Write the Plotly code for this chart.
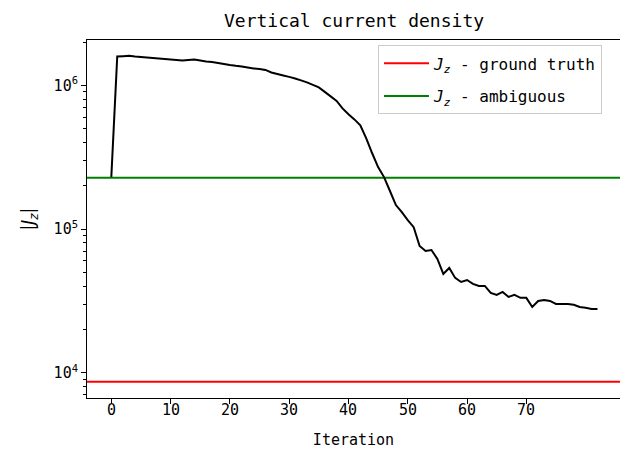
import plotly.graph_objects as go

# ---------------- data ----------------
iterations = list(range(83))
jz_values = [2.30e5, 1.59e6, 1.598e6, 1.608e6, 1.59e6, 1.577e6, 1.564e6, 1.552e6, 1.540e6, 1.528e6,
             1.516e6, 1.503e6, 1.491e6, 1.503e6, 1.516e6, 1.491e6, 1.468e6, 1.456e6, 1.433e6, 1.410e6,
             1.388e6, 1.370e6, 1.355e6, 1.334e6, 1.313e6, 1.302e6, 1.281e6, 1.231e6, 1.202e6, 1.173e6,
             1.146e6, 1.118e6, 1.083e6, 1.049e6, 1.008e6, 9.69e5, 9.01e5, 8.39e5, 7.80e5, 6.92e5,
             6.29e5, 5.80e5, 5.28e5, 4.28e5, 3.37e5, 2.70e5, 2.30e5, 1.84e5, 1.47e5, 1.31e5,
             1.155e5, 1.03e5, 7.62e4, 7.03e4, 7.15e4, 6.19e4, 4.87e4, 5.36e4, 4.57e4, 4.28e4,
             4.42e4, 4.15e4, 4.02e4, 4.02e4, 3.59e4, 3.48e4, 3.65e4, 3.37e4, 3.48e4, 3.32e4,
             3.32e4, 2.87e4, 3.16e4, 3.21e4, 3.16e4, 3.01e4, 3.01e4, 3.01e4, 2.97e4, 2.87e4,
             2.83e4, 2.78e4, 2.78e4]
ground_truth = 8.66e3
ambiguous = 2.28e5

x_ticks = [0, 10, 20, 30, 40, 50, 60, 70]
x_tick_text = [str(v) for v in x_ticks]
y_ticks = [1e4, 1e5, 1e6]
y_tick_text = ["10<sup>4</sup>", "10<sup>5</sup>", "10<sup>6</sup>"]
x_range = [-4.1, 85.8]
y_range_log = [3.824, 6.316]

MONO = "DejaVu Sans Mono"

minor_vals = [m * 10 ** e for e in range(3, 7) for m in range(2, 10)]

fig = go.Figure()
fig.add_trace(go.Scatter(x=x_range, y=[ground_truth, ground_truth], mode="lines",
                         line=dict(color="#ff0000", width=2), legendgroup="gt",
                         name="<i>J<sub>z</sub></i> - ground truth"))
fig.add_trace(go.Scatter(x=x_range, y=[ambiguous, ambiguous], mode="lines",
                         line=dict(color="#008000", width=2), legendgroup="amb",
                         name="<i>J<sub>z</sub></i> - ambiguous"))
fig.add_trace(go.Scatter(x=iterations, y=jz_values, mode="lines",
                         line=dict(color="black", width=2, simplify=False), showlegend=False))

# x tick labels as text placed just below the axis
for v, t in zip(x_ticks, x_tick_text):
    fig.add_annotation(x=v, xref="x", y=0, yref="paper", yanchor="top", xanchor="center",
                       text=t, showarrow=False, yshift=-1,
                       font=dict(family=MONO, size=15, color="black"))

fig.update_layout(
    width=620, height=449,
    margin=dict(l=87, r=0, t=40, b=51),
    paper_bgcolor="white", plot_bgcolor="white",
    font=dict(family=MONO, size=15, color="black"),
    title=dict(text="Vertical current density", x=0.571, xanchor="center",
               y=0.955, yanchor="middle", font=dict(family=MONO, size=18, color="black")),
    legend=dict(x=0.546, y=0.985, xanchor="left", yanchor="top",
                bgcolor="rgba(255,255,255,0.8)", bordercolor="#cccccc", borderwidth=1,
                font=dict(family=MONO, size=16), tracegroupgap=9, itemwidth=45),
    showlegend=True,
)
fig.update_xaxes(range=x_range, tickvals=x_ticks, showticklabels=False, showgrid=False,
                 zeroline=False, showline=True, linecolor="black", linewidth=1, mirror=True,
                 ticks="outside", ticklen=5, tickcolor="black",
                 title=dict(text="Iteration", font=dict(family=MONO, size=15), standoff=33))
fig.update_yaxes(type="log", range=y_range_log, tickvals=y_ticks, ticktext=y_tick_text,
                 showgrid=False, zeroline=False, showline=True, linecolor="black", linewidth=1,
                 ticks="outside", ticklen=5, tickcolor="black",
                 minor=dict(tickvals=minor_vals, ticks="outside", ticklen=3, tickcolor="black"),
                 title=dict(text="|<i>J<sub>z</sub></i>|", font=dict(family="DejaVu Sans", size=17),
                            standoff=14))

fig.write_html("out.html")
